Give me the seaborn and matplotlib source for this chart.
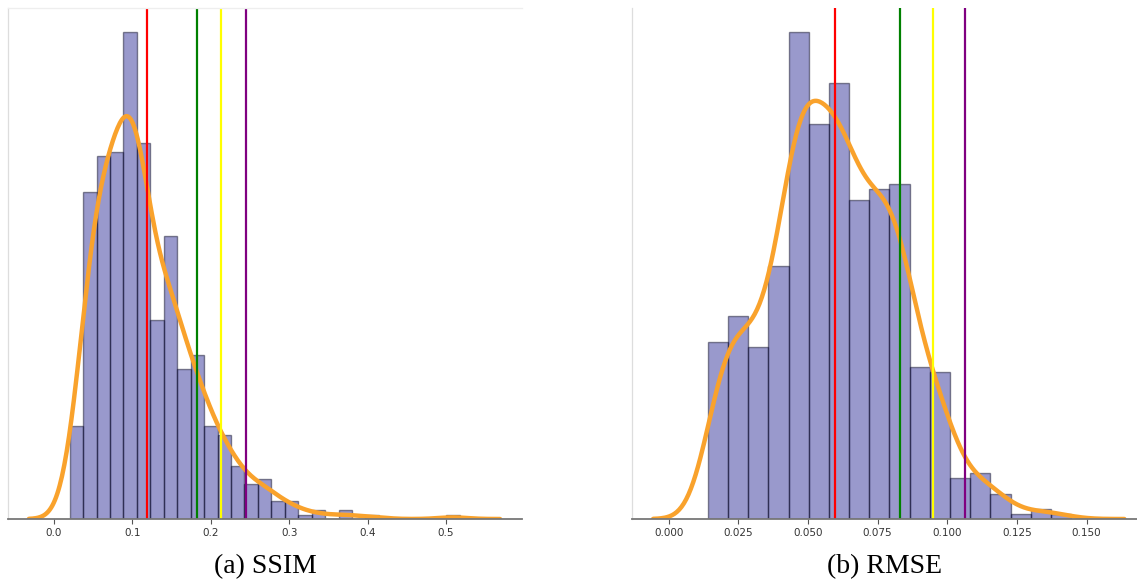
import numpy as np
import pandas as pd
import matplotlib
matplotlib.use("Agg")
import matplotlib.pyplot as plt
import seaborn as sns

# ---------------- data ----------------
ssim_bin_start = 0.020
ssim_bin_width = 0.01715
ssim_counts = [21, 74, 82, 83, 110, 85, 45, 64, 34, 37, 21, 19, 12, 8, 9,
               4, 4, 1, 2, 0, 2, 0, 1, 0, 0, 0, 0, 0, 1]
ssim_thresholds = [0.118, 0.182, 0.2125, 0.2444]
ssim_kde_range = (-0.032, 0.569)

rmse_bin_start = 0.0140
rmse_bin_width = 0.00725
rmse_counts = [35, 40, 34, 50, 96, 78, 86, 63, 65, 66, 30, 29, 8, 9, 5, 1, 2, 1]
rmse_thresholds = [0.0596, 0.0829, 0.0948, 0.1063]
rmse_kde_range = (-0.0056, 0.1636)

threshold_colors = ["red", "green", "yellow", "purple"]
captions = ["(a) SSIM", "(b) RMSE"]
ssim_ticks = [0.0, 0.1, 0.2, 0.3, 0.4, 0.5]
ssim_ticklabels = ["0.0", "0.1", "0.2", "0.3", "0.4", "0.5"]
ssim_xlim = (-0.0587, 0.597)
rmse_ticks = [0.000, 0.025, 0.050, 0.075, 0.100, 0.125, 0.150]
rmse_ticklabels = ["0.000", "0.025", "0.050", "0.075", "0.100", "0.125", "0.150"]
rmse_xlim = (-0.0132, 0.171)

# ---------------- figure ----------------
sns.set_theme(style="white")
plt.rcParams['font.family'] = ['DejaVu Sans']

W, H = 1137, 585
fig = plt.figure(figsize=(W / 100, H / 100), dpi=100)

bottom = (H - 519) / H
height = (519 - 8) / H
ax1 = fig.add_axes([8 / W, bottom, (522 - 8) / W, height])
ax2 = fig.add_axes([632 / W, bottom, (1145 - 632) / W, height])

KDE_COLOR = "#F9A22C"


def draw(ax, start, width, counts, thresholds, kde_range, ticks, ticklabels,
         xlim, bw_adjust, top_spine):
    counts = np.asarray(counts, dtype=float)
    n = len(counts)
    centers = start + width * (np.arange(n) + 0.5)
    df = pd.DataFrame({"value": centers, "count": counts})
    sns.histplot(data=df, x="value", weights="count", bins=n,
                 binrange=(start, start + n * width), stat="density",
                 facecolor=(0.0, 0.0, 0.5, 0.4),
                 edgecolor=(0.0, 0.0, 0.1, 0.45), linewidth=1.0, ax=ax)
    sns.kdeplot(data=df, x="value", weights="count", bw_adjust=bw_adjust,
                cut=3, clip=kde_range, gridsize=400, color=KDE_COLOR,
                linewidth=3.2, solid_capstyle="round", ax=ax)
    ax.set_xlim(*xlim)
    for v, c in zip(thresholds, threshold_colors):
        ax.axvline(v, color=c, linewidth=1.6)
    ax.set_ylabel("")
    ax.set_xlabel("")
    ax.set_yticks([])
    ax.set_xticks(ticks)
    ax.set_xticklabels(ticklabels)
    ax.tick_params(axis="x", bottom=True, length=3.5, width=0.8,
                   color="#555555", labelsize=7.5, labelcolor="#333333", pad=3)
    ax.spines["bottom"].set_color("#777777")
    ax.spines["bottom"].set_linewidth(1.3)
    ax.spines["left"].set_color("#dddddd")
    ax.spines["left"].set_linewidth(0.9)
    ax.spines["right"].set_visible(False)
    if top_spine:
        ax.spines["top"].set_color("#eeeeee")
        ax.spines["top"].set_linewidth(0.9)
    else:
        ax.spines["top"].set_visible(False)


draw(ax1, ssim_bin_start, ssim_bin_width, ssim_counts, ssim_thresholds,
     ssim_kde_range, ssim_ticks, ssim_ticklabels, ssim_xlim, 0.45, True)
draw(ax2, rmse_bin_start, rmse_bin_width, rmse_counts, rmse_thresholds,
     rmse_kde_range, rmse_ticks, rmse_ticklabels, rmse_xlim, 0.44, False)

cap_y = (H - 567) / H
fig.text(265 / W, cap_y, captions[0], ha="center", va="center",
         family="Liberation Serif", fontsize=20, color="black")
fig.text(885 / W, cap_y, captions[1], ha="center", va="center",
         family="Liberation Serif", fontsize=20, color="black")

fig.savefig("out.png", dpi=100)
